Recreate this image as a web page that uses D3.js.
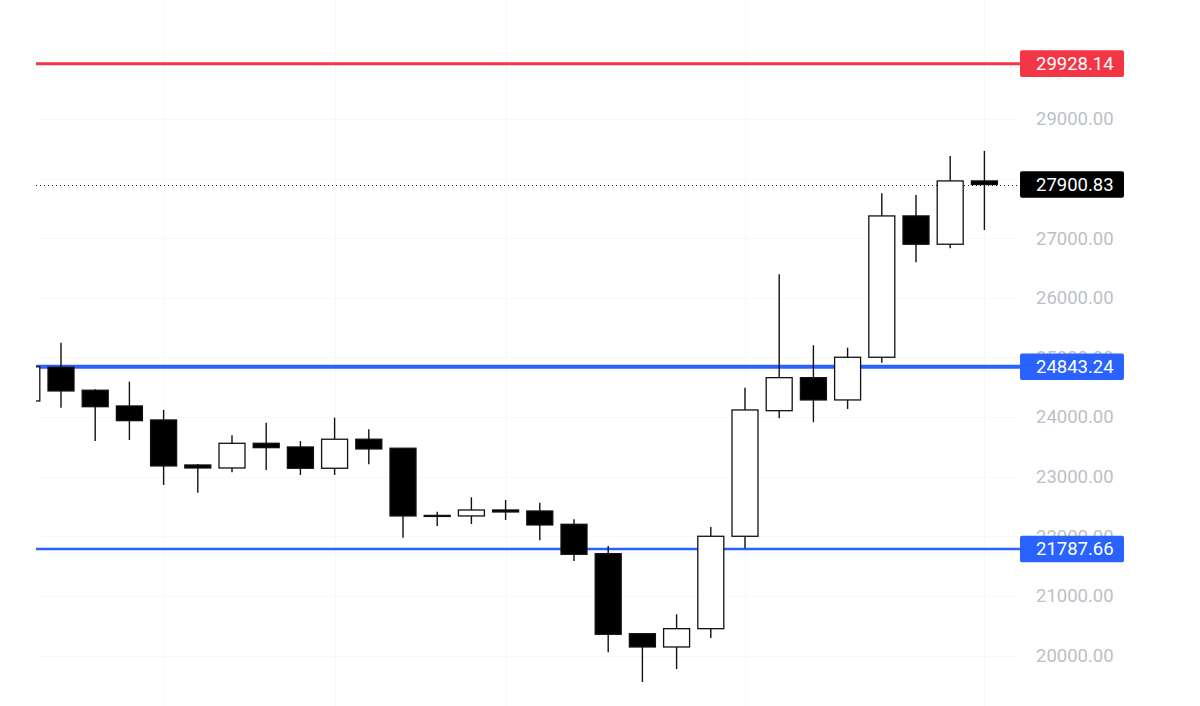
<!DOCTYPE html>
<html>
<head>
<meta charset="utf-8">
<script src="https://cdn.jsdelivr.net/npm/d3@7"></script>
<style>
  body { margin: 0; background: #fff; }
  svg { display: block; font-family: Roboto, "Liberation Sans", sans-serif; }
</style>
</head>
<body>
<svg id="chart"></svg>
<script>
// daily candles
var days = ["2023-02-20", "2023-02-21", "2023-02-22", "2023-02-23", "2023-02-24", "2023-02-25", "2023-02-26",
  "2023-02-27", "2023-02-28", "2023-03-01", "2023-03-02", "2023-03-03", "2023-03-04", "2023-03-05", "2023-03-06",
  "2023-03-07", "2023-03-08", "2023-03-09", "2023-03-10", "2023-03-11", "2023-03-12", "2023-03-13", "2023-03-14",
  "2023-03-15", "2023-03-16", "2023-03-17", "2023-03-18", "2023-03-19", "2023-03-20"];
var opens  = [24270, 24836, 24450, 24186, 23951, 23196, 23146, 23560, 23498, 23141, 23628, 23477, 22341, 22341, 22441,
  22424, 22201, 21708, 20366, 20143, 20450, 22000, 24107, 24661, 24287, 25003, 27374, 26899, 27961];
var highs  = [24900, 25248, 24466, 24594, 24119, 23213, 23695, 23906, 23599, 23990, 23795, 23477, 22413, 22654, 22609,
  22564, 22285, 21837, 20366, 20691, 22156, 24493, 26396, 25205, 25164, 27755, 27727, 28381, 28465];
var lows   = [24200, 24158, 23599, 23616, 22861, 22732, 23074, 23112, 23029, 23029, 23208, 21977, 22173, 22206, 22273,
  21933, 21586, 20054, 19555, 19773, 20294, 21799, 23980, 23913, 24136, 24913, 26597, 26832, 27139];
var closes = [24844, 24438, 24174, 23940, 23180, 23146, 23560, 23487, 23141, 23628, 23465, 22341, 22350, 22441, 22408,
  22190, 21698, 20356, 20143, 20450, 22000, 24119, 24661, 24287, 25003, 27374, 26899, 27961, 27900.83];

var priceTicks = [20000, 21000, 22000, 23000, 24000, 25000, 26000, 27000, 28000, 29000];
var gridDays = ["2023-02-24", "2023-03-01", "2023-03-06", "2023-03-13", "2023-03-20"];

// horizontal levels drawn on the chart
var levelValues = [29928.14, 24843.24, 21787.66];
var levelColors = ["#f23645", "#2962ff", "#2962ff"];
var levelWidths = [3, 4, 2.5];
var lastPrice = 27900.83;

var width = 1200, height = 706;
var plotLeft = 36, plotRight = 1020;

var candles = days.map(function (d, i) {
  return {day: d, o: opens[i], h: highs[i], l: lows[i], c: closes[i]};
});

var svg = d3.select("#chart")
  .attr("width", width)
  .attr("height", height);

var x = d3.scalePoint()
  .domain(days)
  .range([26.8, 984.4]);

var y = d3.scaleLinear()
  .domain([20000, 29000])
  .range([655.5, 119]);

var bodyW = x.step() * 0.76;

svg.append("defs").append("clipPath")
  .attr("id", "plot")
  .append("rect")
  .attr("x", plotLeft).attr("y", 0)
  .attr("width", plotRight - plotLeft).attr("height", height);

var plot = svg.append("g").attr("clip-path", "url(#plot)");

// faint grid
plot.append("g").selectAll("line")
  .data(priceTicks)
  .enter().append("line")
  .attr("x1", plotLeft).attr("x2", plotRight)
  .attr("y1", d => Math.round(y(d)) + 0.5).attr("y2", d => Math.round(y(d)) + 0.5)
  .attr("stroke", "#f8f8fa");

plot.append("g").selectAll("line")
  .data(gridDays)
  .enter().append("line")
  .attr("x1", d => Math.round(x(d)) + 0.5).attr("x2", d => Math.round(x(d)) + 0.5)
  .attr("y1", 0).attr("y2", height)
  .attr("stroke", "#f8f8fa");

// levels
plot.append("g").selectAll("line")
  .data(levelValues)
  .enter().append("line")
  .attr("x1", plotLeft).attr("x2", plotRight)
  .attr("y1", d => y(d)).attr("y2", d => y(d))
  .attr("stroke", (d, i) => levelColors[i])
  .attr("stroke-width", (d, i) => levelWidths[i]);

// last price dotted line
plot.append("line")
  .attr("x1", plotLeft).attr("x2", plotRight)
  .attr("y1", Math.round(y(lastPrice)) + 0.5).attr("y2", Math.round(y(lastPrice)) + 0.5)
  .attr("stroke", "#222")
  .attr("stroke-dasharray", "1,3");

var candle = plot.append("g").selectAll("g")
  .data(candles)
  .enter().append("g");

candle.append("line")
  .attr("x1", d => x(d.day)).attr("x2", d => x(d.day))
  .attr("y1", d => y(d.h)).attr("y2", d => y(d.l))
  .attr("stroke", "#111")
  .attr("stroke-width", 1.4);

candle.append("rect")
  .attr("x", d => x(d.day) - bodyW / 2)
  .attr("y", d => y(Math.max(d.o, d.c)))
  .attr("width", bodyW)
  .attr("height", d => Math.max(1, Math.abs(y(d.o) - y(d.c))))
  .attr("fill", d => d.c >= d.o ? "#fff" : "#000")
  .attr("stroke", "#111")
  .attr("stroke-width", 1.3);

// price scale
var axis = svg.append("g")
  .attr("transform", "translate(1036,0)")
  .call(d3.axisRight(y).tickValues(priceTicks).tickFormat(d3.format(".2f")).tickSize(0).tickPadding(0));
axis.select(".domain").remove();
axis.selectAll("text")
  .attr("fill", "#bcbfc7")
  .style("font-size", "18.5px")
  .style("font-family", "Roboto, 'Liberation Sans', sans-serif");

// price tags on the scale
var tagValues = levelValues.concat([lastPrice]);
var tagColors = levelColors.concat(["#000"]);

var tags = svg.append("g").selectAll("g")
  .data(tagValues)
  .enter().append("g")
  .attr("transform", d => "translate(1020," + y(d) + ")");

tags.append("rect")
  .attr("x", 0).attr("y", -13.3)
  .attr("width", 104).attr("height", 26.6)
  .attr("rx", 2)
  .attr("fill", (d, i) => tagColors[i]);

tags.append("text")
  .attr("x", 16).attr("dy", "0.35em")
  .attr("fill", "#fff")
  .style("font-size", "18.5px")
  .text(d => d3.format(".2f")(d));
</script>
</body>
</html>
